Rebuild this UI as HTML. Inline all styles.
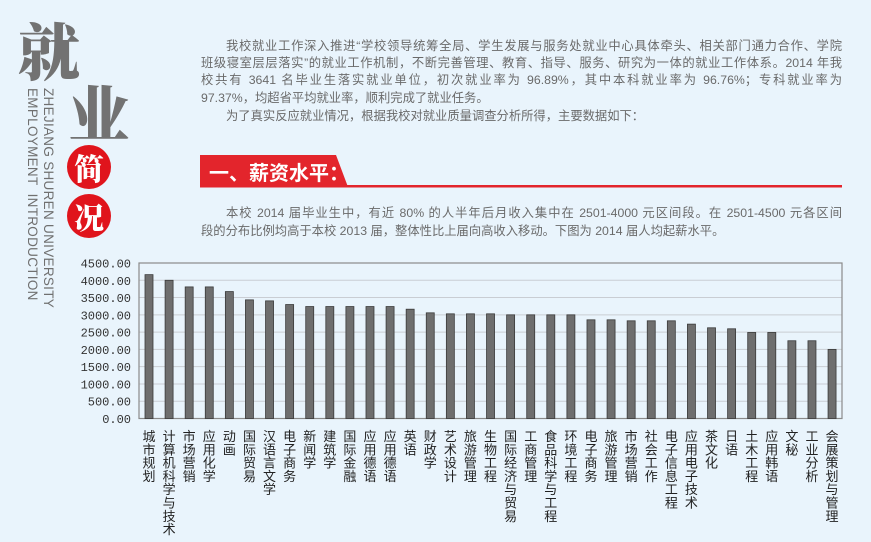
<!DOCTYPE html>
<html><head><meta charset="utf-8"><style>
body{margin:0;width:871px;height:542px;background:#e9f4fc;overflow:hidden;position:relative;font-family:"Liberation Sans","Noto Sans CJK SC",sans-serif;}
.l{position:absolute;left:201px;width:641px;font-size:12.3px;color:#6a6a6a;white-space:nowrap;text-align:justify;text-align-last:justify;height:17px;line-height:17px;}
.nl{text-align-last:left;}
.big{position:absolute;font-family:"Noto Serif CJK SC",serif;font-weight:900;color:#727272;font-size:62px;line-height:1;}
.circ{position:absolute;width:44px;height:44px;border-radius:50%;background:#e0141c;color:#fff;font-family:"Noto Serif CJK SC",serif;font-weight:900;font-size:30px;line-height:44px;text-align:center;}
.vt{position:absolute;transform-origin:0 0;transform:rotate(90deg);font-size:13.5px;color:#707070;white-space:nowrap;letter-spacing:0.3px;}
</style></head><body>
<div class="big" style="left:18px;top:18px;">就</div>
<div class="big" style="left:68px;top:80px;">业</div>
<div class="circ" style="left:67px;top:145px;">简</div>
<div class="circ" style="left:67px;top:194px;">况</div>
<div class="vt" style="left:56px;top:88px;">ZHEJIANG SHUREN UNIVERSITY</div>
<div class="vt" style="left:40px;top:88px;">EMPLOYMENT&nbsp; INTRODUCTION</div>

<div class="l" style="top:38px;left:226px;width:616px;">我校就业工作深入推进“学校领导统筹全局、学生发展与服务处就业中心具体牵头、相关部门通力合作、学院</div>
<div class="l" style="top:55px;">班级寝室层层落实”的就业工作机制，不断完善管理、教育、指导、服务、研究为一体的就业工作体系。2014 年我</div>
<div class="l" style="top:72px;">校共有 3641 名毕业生落实就业单位，初次就业率为 96.89%，其中本科就业率为 96.76%；专科就业率为</div>
<div class="l nl" style="top:90px;">97.37%，均超省平均就业率，顺利完成了就业任务。</div>
<div class="l nl" style="top:108px;left:226px;">为了真实反应就业情况，根据我校对就业质量调查分析所得，主要数据如下：</div>

<svg style="position:absolute;left:0;top:0" width="871" height="542">
<polygon points="200,155 336,155 348,187 200,187" fill="#e3252c"/>
<rect x="200" y="185" width="642" height="2.5" fill="#e3252c"/>
<text x="209" y="180" font-size="20" font-weight="bold" fill="#fff" font-family="Liberation Sans,Noto Sans CJK SC,sans-serif">一、薪资水平：</text>
</svg>

<div class="l" style="top:205px;left:226px;width:616px;">本校 2014 届毕业生中，有近 80% 的人半年后月收入集中在 2501-4000 元区间段。在 2501-4500 元各区间</div>
<div class="l nl" style="top:223px;">段的分布比例均高于本校 2013 届，整体性比上届向高收入移动。下图为 2014 届人均起薪水平。</div>

<svg id="ch" style="position:absolute;left:0;top:0" width="871" height="542"></svg>
<script>
var v=[4163,4000,3808,3808,3673,3433,3404,3298,3240,3240,3240,3240,3240,3163,3058,3029,3029,3029,3000,3000,3000,3000,2856,2856,2827,2827,2827,2731,2625,2596,2490,2490,2250,2250,2000];
var n=["城市规划","计算机科学与技术","市场营销","应用化学","动画","国际贸易","汉语言文学","电子商务","新闻学","建筑学","国际金融","应用德语","应用德语","英语","财政学","艺术设计","旅游管理","生物工程","国际经济与贸易","工商管理","食品科学与工程","环境工程","电子商务","旅游管理","市场营销","社会工作","电子信息工程","应用电子技术","茶文化","日语","土木工程","应用韩语","文秘","工业分析","会展策划与管理"];
var s="",x0=139,x1=842,yt=263,yb=418.5,h=yb-yt;
for(var i=0;i<=9;i++){var y=yb-i*h/9;if(i>0&&i<9)s+='<line x1="'+x0+'" x2="'+x1+'" y1="'+y+'" y2="'+y+'" stroke="#c9cdd3" stroke-width="1"/>';
s+='<text x="131" y="'+(y+4.5)+'" font-size="12" text-anchor="end" fill="#333" font-family="Liberation Mono, monospace">'+(i*500)+'.00</text>';}
s+='<rect x="'+x0+'" y="'+yt+'" width="'+(x1-x0)+'" height="'+h+'" fill="none" stroke="#8a8a8a" stroke-width="1.2"/>';
for(var i=0;i<35;i++){var cx=149+i*20.09,bh=v[i]/4500*h;
s+='<rect x="'+(cx-4)+'" y="'+(yb-bh)+'" width="8" height="'+bh+'" fill="#6e6e6e" stroke="#3a3a3a" stroke-width="0.8"/>';
for(var j=0;j<n[i].length;j++)s+='<text x="'+cx+'" y="'+(441+j*13.3)+'" font-size="13" text-anchor="middle" fill="#222" font-family="Noto Sans CJK SC,sans-serif">'+n[i][j]+'</text>';}
document.getElementById("ch").innerHTML=s;
</script>
</body></html>
